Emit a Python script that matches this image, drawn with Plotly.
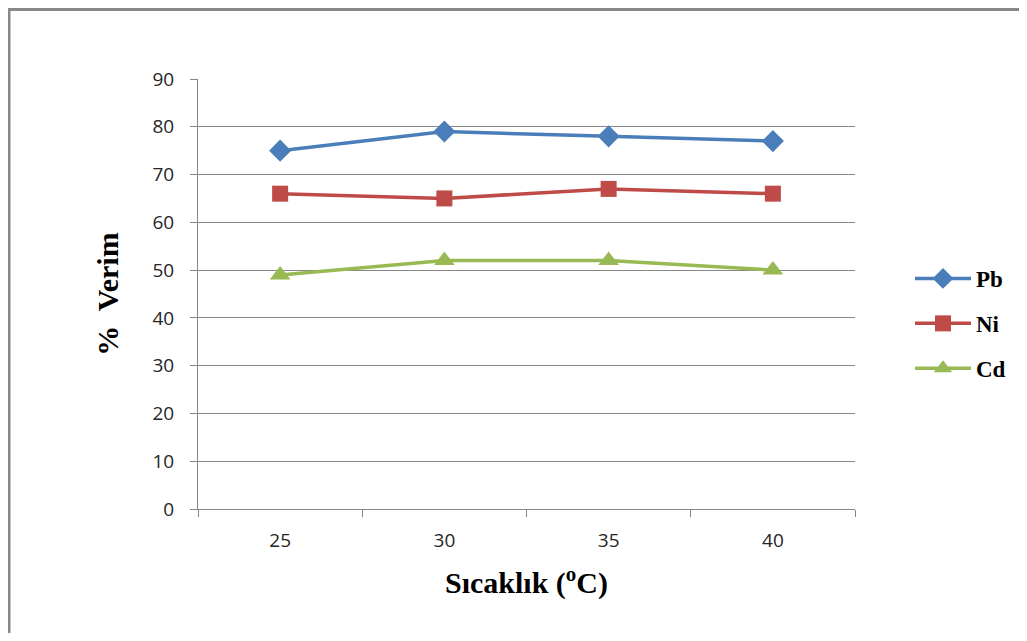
import plotly.graph_objects as go

categories = ["25", "30", "35", "40"]
pb = [75, 79, 78, 77]
ni = [66, 65, 67, 66]
cd = [49, 52, 52, 50]

# page offset of 8px (body margin); coordinates below are figure pixels
W, H = 1011, 625
OFF = 8
L, R, T, B = 198 - OFF, 855 - OFF, 79 - OFF, 509 - OFF

fig = go.Figure()
series = [
    ("Pb", pb, "#4A7EBB", "diamond", 17),
    ("Ni", ni, "#BE4B48", "square", 16),
    ("Cd", cd, "#98B954", "triangle-up", 18),
]
for name, vals, col, sym, sz in series:
    fig.add_trace(go.Scatter(
        x=categories, y=vals, name=name, mode="lines+markers",
        line=dict(color=col, width=3.5),
        marker=dict(symbol=sym, size=sz, color=col),
        legendgroup=name,
    ))

def px_x(p):
    return (p - OFF - L) / (R - L)

def px_y(p):
    return (B - (p - OFF)) / (B - T)

tickfont = dict(family="Open Sans", size=19, color="#262626")
titlefont = dict(family="Liberation Serif", size=30, color="black", weight="bold")

fig.update_layout(
    width=W, height=H,
    margin=dict(l=L, r=W - R, t=T, b=H - B, autoexpand=False),
    paper_bgcolor="white", plot_bgcolor="white",
    showlegend=True,
    legend=dict(
        x=px_x(910), y=px_y(257), xanchor="left", yanchor="top",
        font=dict(family="Liberation Serif", size=23, color="black", weight="bold"),
        tracegroupgap=12, itemwidth=56, bgcolor="rgba(0,0,0,0)",
    ),
    xaxis=dict(
        type="category", range=[-0.5, 3.5], tickson="boundaries",
        showgrid=False, showline=True, linecolor="#868686", linewidth=1,
        ticks="outside", ticklen=7, tickcolor="#868686",
        ticklabelstandoff=14,
        tickfont=tickfont,
        title=dict(text="Sıcaklık (<sup>o</sup>C)", font=titlefont, standoff=20),
        zeroline=False,
    ),
    yaxis=dict(
        range=[0, 90], dtick=10, showgrid=True, gridcolor="#868686", gridwidth=1,
        showline=True, linecolor="#868686", linewidth=1,
        ticks="outside", ticklen=7, tickcolor="#868686",
        ticklabelstandoff=12,
        tickfont=tickfont,
        title=dict(text="%\u00a0 Verim", font=titlefont, standoff=24),
        zeroline=False,
    ),
    shapes=[
        dict(type="line", xref="paper", yref="paper",
             x0=px_x(9), x1=px_x(1040), y0=px_y(9.5), y1=px_y(9.5),
             line=dict(color="#888888", width=3)),
        dict(type="line", xref="paper", yref="paper",
             x0=px_x(9), x1=px_x(9), y0=px_y(8), y1=px_y(660),
             line=dict(color="#888888", width=3)),
    ],
)

fig.write_html("out.html")
